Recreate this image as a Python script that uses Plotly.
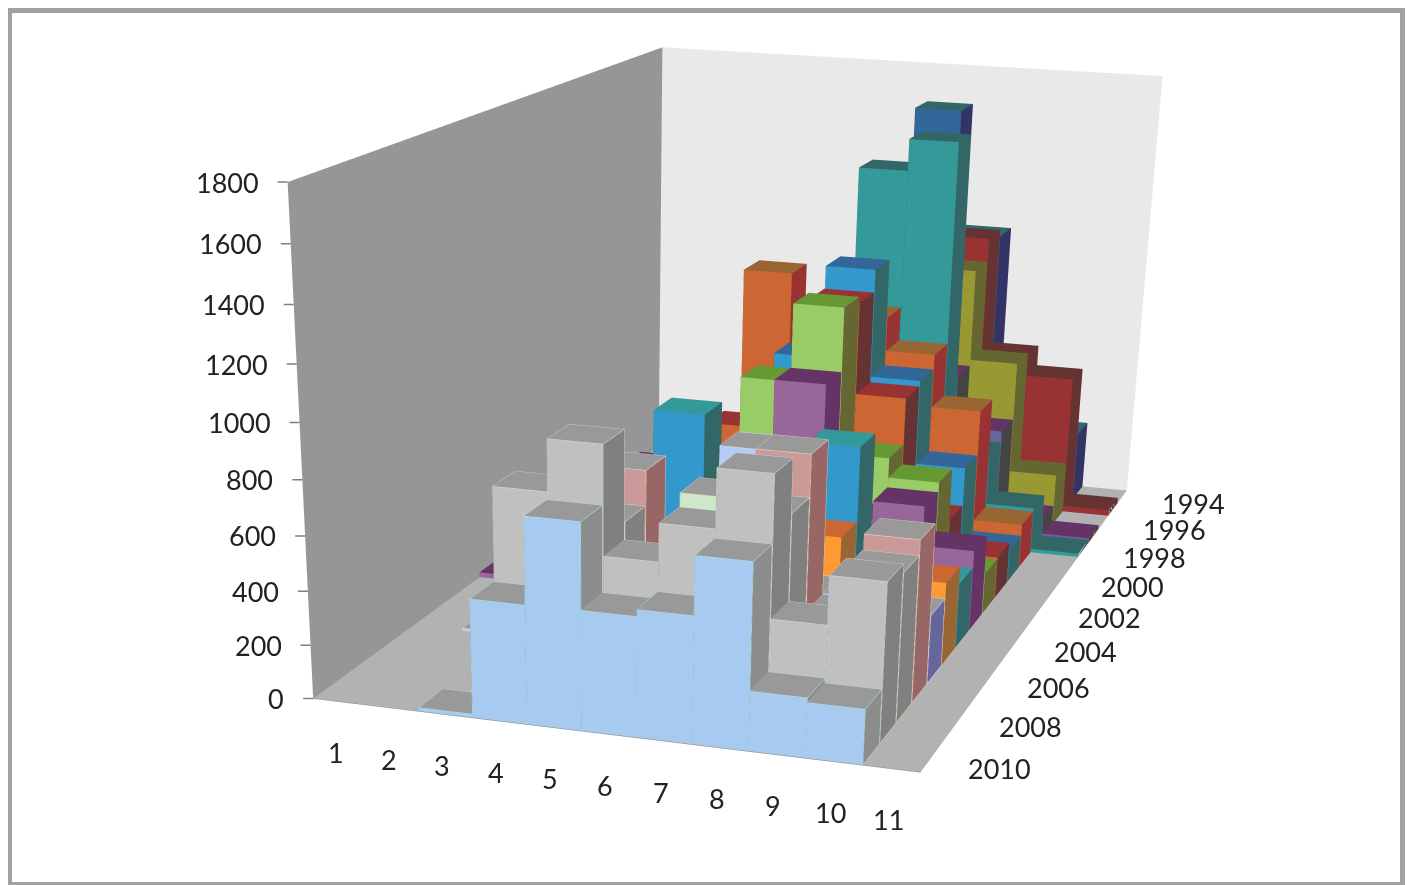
import plotly.graph_objects as go

months = [1, 2, 3, 4, 5, 6, 7, 8, 9, 10, 11]
years = list(range(1994, 2011))
year_ticks = [1994, 1996, 1998, 2000, 2002, 2004, 2006, 2008, 2010]
z_ticks = list(range(0, 2000, 200))

v1994 = [0, 0, 0, 0, 0, 300, 1640, 1126, 500, 293, 0]
v1995 = [0, 0, 0, 0, 0, 300, 500, 1154, 670, 585, 25]
v1996 = [0, 0, 0, 0, 0, 250, 500, 1059, 684, 218, 0]
v1997 = [0, 0, 0, 0, 100, 300, 400, 660, 445, 85, 20]
v1998 = [0, 0, 0, 0, 200, 500, 1524, 1648, 400, 190, 15]
v1999 = [0, 0, 0, 0, 1127, 500, 980, 846, 633, 179, 0]
v2000 = [0, 0, 0, 0, 300, 850, 1212, 789, 453, 135, 0]
v2001 = [0, 0, 0, 0, 600, 500, 1125, 769, 300, 165, 0]
v2002 = [0, 0, 0, 0, 300, 851, 1151, 585, 508, 160, 0]
v2003 = [20, 0, 0, 520, 300, 400, 906, 400, 472, 316, 0]
v2004 = [0, 0, 0, 0, 805, 300, 400, 737, 300, 250, 0]
v2005 = [0, 0, 0, 0, 200, 300, 400, 451, 300, 319, 0]
v2006 = [0, 10, 0, 0, 300, 300, 813, 300, 300, 260, 0]
v2007 = [0, 0, 0, 0, 759, 300, 300, 874, 300, 606, 0]
v2008 = [0, 0, 0, 100, 630, 300, 754, 720, 300, 550, 0]
v2009 = [0, 0, 0, 776, 962, 567, 705, 917, 406, 583, 0]
v2010 = [0, 0, 12, 435, 750, 438, 463, 674, 217, 200, 0]
values = [v1994, v1995, v1996, v1997, v1998, v1999, v2000, v2001, v2002, v2003,
          v2004, v2005, v2006, v2007, v2008, v2009, v2010]

# front, top, side, edge
styles = [
 ('#336699', '#336666', '#333366', None), ('#993333', '#663333', '#663333', None),
 ('#999933', '#666633', '#666633', None), ('#666699', '#663366', '#444444', None),
 ('#339999', '#336666', '#336666', None), ('#cc6633', '#996633', '#993333', None),
 ('#3399cc', '#336699', '#336666', None), ('#cc6633', '#993333', '#663333', None),
 ('#99cc66', '#669933', '#666633', None), ('#996699', '#663366', '#663366', None),
 ('#3399cc', '#339999', '#336666', None), ('#ff9933', '#cc6633', '#996633', None),
 ('#b4ccf8', '#999999', '#666699', '#d8d8f0'), ('#cc9999', '#999999', '#996666', '#d8d0c0'),
 ('#cce8c8', '#999999', '#808080', '#e0d8b0'), ('#c0c0c0', '#999999', '#808080', '#d0d0d0'),
 ('#a6caf0', '#999999', '#8c8c8c', '#a8dcdc'),
]

W, H = 1405, 2400
fig = go.Figure()
for year, vals, st in zip(years, values, styles):
    row = 2010 - year
    X, Y, Z, I, J, K, C = [], [], [], [], [], [], []
    lx, ly, lz = [], [], []
    for m, v in zip(months, vals):
        if v <= 0:
            continue
        n = len(X)
        a, b, c, d = m - .5, m + .5, row + .02, row + .98
        X += [a, b, b, a, a, b, b, a]
        Y += [c, c, d, d, c, c, d, d]
        Z += [0, 0, 0, 0, v, v, v, v]
        faces = [((0, 1, 5), st[0]), ((0, 5, 4), st[0]), ((1, 2, 6), st[2]), ((1, 6, 5), st[2]),
                 ((4, 5, 6), st[1]), ((4, 6, 7), st[1]), ((3, 0, 4), st[2]), ((3, 4, 7), st[2]),
                 ((2, 3, 7), st[2]), ((2, 7, 6), st[2])]
        for (p, q, r), col in faces:
            I.append(n + p); J.append(n + q); K.append(n + r); C.append(col)
        if st[3]:
            for seq in ([a, c, 0], [a, c, v], [b, c, v], [b, c, 0]), ([a, c, v], [a, d, v], [b, d, v], [b, c, v]), ([b, c, 0], [b, d, 0], [b, d, v]):
                for pt in seq:
                    lx.append(pt[0]); ly.append(pt[1]); lz.append(pt[2])
                lx.append(None); ly.append(None); lz.append(None)
    fig.add_trace(go.Mesh3d(x=X, y=Y, z=Z, i=I, j=J, k=K, facecolor=C, flatshading=True, name=str(year),
                            lighting=dict(ambient=1, diffuse=0, specular=0, roughness=1, fresnel=0),
                            hoverinfo='skip', showscale=False))
    if st[3]:
        fig.add_trace(go.Scatter3d(x=lx, y=ly, z=lz, mode='lines', line=dict(color=st[3], width=1.5),
                                   hoverinfo='skip', showlegend=False))

lf = dict(family='Lato', size=27, color='#222222')
ann = []
for z in z_ticks:
    ann.append(dict(x=.5, y=0, z=z, text=str(z), font=lf, showarrow=True, arrowhead=0, arrowwidth=1.5,
                    arrowcolor='#808080', ax=-27, ay=0, xanchor='right', yanchor='middle', standoff=0, startstandoff=17))
for m in months:
    ann.append(dict(x=m, y=0, z=0, text=str(m), font=lf, showarrow=False, xshift=-3, yshift=-51))
for y in year_ticks:
    ann.append(dict(x=11.5, y=2010 - y + .5, z=0, text=str(y), font=lf, showarrow=False, xshift=71, yshift=-7))

common = dict(showgrid=False, zeroline=False, showspikes=False, showbackground=True, title='', showticklabels=False, ticks='')
fig.update_layout(
    width=W, height=H, margin=dict(l=0, r=0, t=0, b=0), paper_bgcolor='white', showlegend=False,
    scene=dict(
        domain=dict(x=[0, 1], y=[0, 1]), aspectmode='manual',
        aspectratio=dict(x=1, y=1.77226, z=0.78960),
        xaxis=dict(common, range=[.5, 11.5], backgroundcolor='#969696', showline=True, linecolor='#8a8a8a', linewidth=1),
        yaxis=dict(common, range=[0, 17], backgroundcolor='#e9e9e9', showline=False),
        zaxis=dict(common, range=[0, 1800], backgroundcolor='#b2b2b2', showline=False),
        camera=dict(eye=dict(x=1.41179, y=-4.97310, z=1.10516),
                    center=dict(x=-0.62004, y=1.77765, z=-2.70493),
                    up=dict(x=-1.70834, y=5.42603, z=1)),
        annotations=ann,
    ),
    shapes=[dict(type='rect', xref='paper', yref='paper', x0=0, x1=1396 / W, y0=1 - 878 / H, y1=1 - 1 / H,
                 line=dict(color='#a0a0a0', width=8), layer='above')],
)
fig.write_html('out.html')
